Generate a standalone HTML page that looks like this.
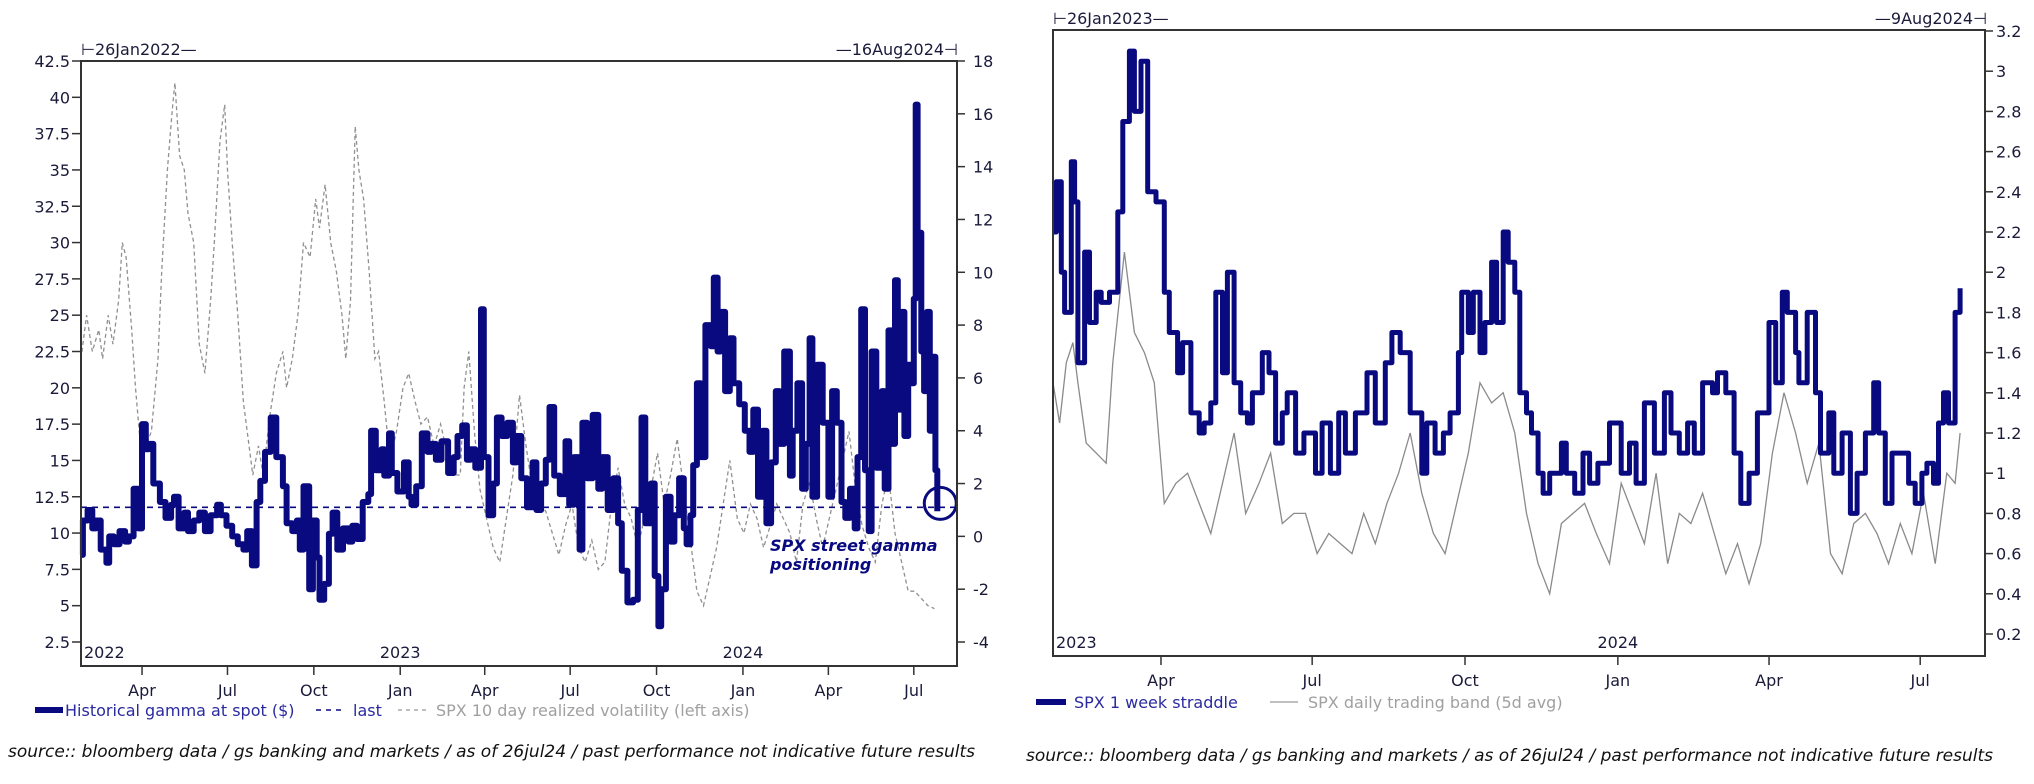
<!DOCTYPE html>
<html><head><meta charset="utf-8">
<style>
html,body{margin:0;padding:0;background:#fff;}
svg{display:block;}
text{font-family:"DejaVu Sans","Liberation Sans",sans-serif;}
</style></head>
<body>
<svg id="chart" width="2034" height="784" viewBox="0 0 2034 784" xmlns="http://www.w3.org/2000/svg"></svg>
<script>
// ---------- Left chart data ----------
const gammaDates = ["2022-01-26","2022-01-28","2022-02-02","2022-02-07","2022-02-11","2022-02-16","2022-02-22","2022-02-25","2022-03-02","2022-03-08","2022-03-14","2022-03-18","2022-03-23","2022-03-28","2022-04-01","2022-04-05","2022-04-08","2022-04-13","2022-04-20","2022-04-26","2022-05-02","2022-05-05","2022-05-10","2022-05-16","2022-05-20","2022-05-26","2022-06-01","2022-06-07","2022-06-13","2022-06-20","2022-06-24","2022-06-30","2022-07-06","2022-07-12","2022-07-18","2022-07-22","2022-07-27","2022-08-01","2022-08-05","2022-08-10","2022-08-16","2022-08-22","2022-08-29","2022-09-02","2022-09-08","2022-09-13","2022-09-16","2022-09-20","2022-09-26","2022-09-30","2022-10-04","2022-10-07","2022-10-12","2022-10-17","2022-10-21","2022-10-26","2022-11-01","2022-11-07","2022-11-11","2022-11-16","2022-11-22","2022-11-28","2022-12-01","2022-12-06","2022-12-12","2022-12-15","2022-12-20","2022-12-23","2022-12-29","2023-01-05","2023-01-10","2023-01-13","2023-01-18","2023-01-24","2023-01-30","2023-02-03","2023-02-08","2023-02-14","2023-02-21","2023-02-27","2023-03-03","2023-03-08","2023-03-13","2023-03-17","2023-03-22","2023-03-28","2023-03-31","2023-04-05","2023-04-10","2023-04-14","2023-04-19","2023-04-25","2023-05-01","2023-05-05","2023-05-10","2023-05-16","2023-05-22","2023-05-26","2023-05-31","2023-06-05","2023-06-09","2023-06-14","2023-06-20","2023-06-26","2023-06-30","2023-07-05","2023-07-11","2023-07-14","2023-07-19","2023-07-25","2023-07-31","2023-08-04","2023-08-10","2023-08-16","2023-08-21","2023-08-25","2023-08-31","2023-09-06","2023-09-11","2023-09-15","2023-09-19","2023-09-25","2023-09-29","2023-10-03","2023-10-06","2023-10-11","2023-10-16","2023-10-20","2023-10-25","2023-10-30","2023-11-02","2023-11-06","2023-11-09","2023-11-13","2023-11-17","2023-11-22","2023-11-28","2023-12-01","2023-12-05","2023-12-08","2023-12-13","2023-12-18","2023-12-22","2023-12-28","2024-01-03","2024-01-08","2024-01-12","2024-01-17","2024-01-22","2024-01-26","2024-01-31","2024-02-05","2024-02-09","2024-02-14","2024-02-20","2024-02-23","2024-02-28","2024-03-04","2024-03-08","2024-03-12","2024-03-15","2024-03-20","2024-03-26","2024-04-01","2024-04-05","2024-04-10","2024-04-15","2024-04-19","2024-04-24","2024-04-29","2024-05-02","2024-05-06","2024-05-10","2024-05-14","2024-05-17","2024-05-22","2024-05-28","2024-05-31","2024-06-04","2024-06-07","2024-06-11","2024-06-14","2024-06-18","2024-06-21","2024-06-25","2024-06-28","2024-07-01","2024-07-03","2024-07-05","2024-07-09","2024-07-12","2024-07-15","2024-07-18","2024-07-22","2024-07-24","2024-07-26"];
const gammaValues = [-0.7,0.6,1.0,0.3,0.6,-0.5,-1.0,0.0,-0.3,0.2,-0.2,0.0,1.8,0.3,4.25,3.3,3.5,2.0,1.3,0.7,1.2,1.5,0.3,0.9,0.2,0.6,0.9,0.2,0.8,1.2,0.8,0.4,0.0,-0.3,-0.5,0.2,-1.1,1.3,2.1,3.2,4.5,3.0,1.9,0.5,0.2,0.6,-0.5,1.9,-2.0,0.6,-0.8,-2.4,-1.8,0.1,0.9,-0.5,0.3,-0.2,0.4,-0.1,1.3,1.6,4.0,2.5,3.3,2.3,3.9,2.4,1.7,2.8,1.5,1.2,1.9,3.9,3.2,3.5,2.9,3.6,2.4,3.0,3.8,4.2,2.9,3.3,2.6,8.6,3.0,0.8,2.0,4.5,3.8,4.3,2.8,3.8,2.2,1.1,2.8,1.0,2.0,2.9,4.9,2.3,1.6,3.6,1.2,3.0,-0.5,4.3,2.2,4.6,1.8,3.0,1.0,2.2,0.5,-1.3,-2.5,-2.4,1.0,4.5,0.5,2.0,-1.5,-3.4,-2.0,1.5,-0.2,0.8,2.2,0.3,-0.3,0.8,2.7,5.8,3.0,8.0,7.2,9.8,7.0,8.5,5.5,7.5,5.8,5.0,4.0,3.2,4.8,1.5,4.0,0.5,2.8,5.5,3.5,7.0,2.3,4.0,5.8,1.8,3.5,7.5,1.5,6.5,4.3,1.5,5.5,4.3,1.3,0.7,1.8,0.3,3.0,8.6,2.5,0.2,7.0,2.6,5.5,1.8,7.8,3.5,9.7,4.8,8.5,3.8,6.5,5.8,9.0,16.35,11.5,7.0,5.5,8.5,4.0,6.8,2.5,0.95];
const gammaLast = 1.1;
const volDates = ["2022-01-26","2022-02-01","2022-02-07","2022-02-14","2022-02-18","2022-02-24","2022-03-01","2022-03-07","2022-03-11","2022-03-15","2022-03-21","2022-03-25","2022-03-31","2022-04-05","2022-04-11","2022-04-18","2022-04-22","2022-04-28","2022-05-03","2022-05-06","2022-05-11","2022-05-16","2022-05-20","2022-05-26","2022-06-01","2022-06-07","2022-06-13","2022-06-17","2022-06-23","2022-06-28","2022-07-01","2022-07-06","2022-07-12","2022-07-18","2022-07-22","2022-07-28","2022-08-03","2022-08-08","2022-08-15","2022-08-22","2022-08-29","2022-09-02","2022-09-08","2022-09-14","2022-09-20","2022-09-27","2022-10-03","2022-10-07","2022-10-13","2022-10-19","2022-10-25","2022-10-31","2022-11-04","2022-11-09","2022-11-14","2022-11-18","2022-11-23","2022-11-29","2022-12-05","2022-12-09","2022-12-15","2022-12-21","2022-12-28","2023-01-04","2023-01-10","2023-01-17","2023-01-23","2023-01-30","2023-02-06","2023-02-13","2023-02-20","2023-02-27","2023-03-06","2023-03-10","2023-03-15","2023-03-21","2023-03-27","2023-04-03","2023-04-10","2023-04-17","2023-04-24","2023-05-01","2023-05-08","2023-05-15","2023-05-22","2023-05-29","2023-06-05","2023-06-12","2023-06-19","2023-06-26","2023-07-03","2023-07-10","2023-07-17","2023-07-24","2023-07-31","2023-08-07","2023-08-14","2023-08-21","2023-08-28","2023-09-04","2023-09-11","2023-09-18","2023-09-25","2023-10-02","2023-10-09","2023-10-16","2023-10-23","2023-10-30","2023-11-06","2023-11-13","2023-11-20","2023-11-27","2023-12-04","2023-12-11","2023-12-18","2023-12-26","2024-01-02","2024-01-09","2024-01-16","2024-01-23","2024-01-30","2024-02-06","2024-02-13","2024-02-20","2024-02-27","2024-03-05","2024-03-12","2024-03-19","2024-03-26","2024-04-02","2024-04-09","2024-04-16","2024-04-23","2024-04-30","2024-05-07","2024-05-14","2024-05-21","2024-05-28","2024-06-04","2024-06-11","2024-06-18","2024-06-25","2024-07-02","2024-07-09","2024-07-16","2024-07-23"];
const volValues = [22,25,22.5,24,22,25,23,26,30,29,24,20,15.5,16,17,22,28,35,39,41,36,35,32,30,23,21,26,30,37,39.5,35,30,25,19,17,14,16,14,18,21,22.5,20,22,25,30,29,33,31,34,30,28,25,22,26,38,35,33,28,22,22.5,19,15,17,20,21,19,17.5,18,16,17.5,15.5,14,14,20,22.5,17,13,11,9,8,11,14,19.5,16,13,12,11.5,10,8.5,10.5,12,9,8,9.5,7.5,8,12,14.5,12,11,9,11,13,15.5,12,14,16.5,13,9.5,6,5,7,9,12,15,11,10,12,11,9,10.5,12,11,10,8,12,13.5,11,9,11,13,15,17,13,10.5,9,8,12,14,10,8,6,6,5.5,5,4.8];
const leftTicksL = [2.5,5,7.5,10,12.5,15,17.5,20,22.5,25,27.5,30,32.5,35,37.5,40,42.5];
const leftTicksR = [-4,-2,0,2,4,6,8,10,12,14,16,18];
const leftMonths = ["2022-04-01","2022-07-01","2022-10-01","2023-01-01","2023-04-01","2023-07-01","2023-10-01","2024-01-01","2024-04-01","2024-07-01"];
const leftMonthLabels = ["Apr","Jul","Oct","Jan","Apr","Jul","Oct","Jan","Apr","Jul"];

// ---------- Right chart data ----------
const stradDates = ["2023-01-26","2023-01-28","2023-01-31","2023-02-02","2023-02-06","2023-02-08","2023-02-10","2023-02-14","2023-02-17","2023-02-21","2023-02-24","2023-03-01","2023-03-06","2023-03-09","2023-03-13","2023-03-16","2023-03-20","2023-03-24","2023-03-29","2023-04-03","2023-04-06","2023-04-11","2023-04-14","2023-04-19","2023-04-24","2023-04-27","2023-05-01","2023-05-04","2023-05-08","2023-05-11","2023-05-15","2023-05-19","2023-05-23","2023-05-26","2023-06-01","2023-06-05","2023-06-09","2023-06-13","2023-06-16","2023-06-21","2023-06-26","2023-07-03","2023-07-07","2023-07-12","2023-07-17","2023-07-21","2023-07-27","2023-08-03","2023-08-08","2023-08-14","2023-08-18","2023-08-23","2023-08-29","2023-09-05","2023-09-08","2023-09-13","2023-09-18","2023-09-22","2023-09-27","2023-09-29","2023-10-03","2023-10-06","2023-10-10","2023-10-13","2023-10-17","2023-10-20","2023-10-24","2023-10-27","2023-10-31","2023-11-03","2023-11-07","2023-11-10","2023-11-14","2023-11-17","2023-11-21","2023-11-28","2023-12-01","2023-12-06","2023-12-11","2023-12-15","2023-12-20","2023-12-27","2024-01-03","2024-01-08","2024-01-12","2024-01-17","2024-01-23","2024-01-29","2024-02-02","2024-02-07","2024-02-12","2024-02-16","2024-02-21","2024-02-27","2024-03-01","2024-03-06","2024-03-11","2024-03-15","2024-03-20","2024-03-25","2024-04-01","2024-04-05","2024-04-09","2024-04-12","2024-04-17","2024-04-19","2024-04-24","2024-04-29","2024-05-02","2024-05-07","2024-05-10","2024-05-15","2024-05-20","2024-05-24","2024-05-29","2024-06-03","2024-06-06","2024-06-10","2024-06-14","2024-06-19","2024-06-24","2024-06-28","2024-07-02","2024-07-05","2024-07-09","2024-07-12","2024-07-15","2024-07-18","2024-07-22","2024-07-25"];
const stradValues = [2.2,2.45,2.0,1.8,2.55,2.35,1.55,2.1,1.75,1.9,1.85,1.9,2.3,2.75,3.1,2.8,3.05,2.4,2.35,1.9,1.7,1.5,1.65,1.3,1.2,1.25,1.35,1.9,1.5,2.0,1.45,1.3,1.25,1.4,1.6,1.5,1.15,1.3,1.4,1.1,1.2,1.0,1.25,1.0,1.3,1.1,1.3,1.5,1.25,1.55,1.7,1.6,1.3,1.0,1.25,1.1,1.2,1.3,1.6,1.9,1.7,1.9,1.6,1.75,2.05,1.75,2.2,2.05,1.9,1.4,1.3,1.2,1.0,0.9,1.0,1.15,1.0,0.9,1.1,0.95,1.05,1.25,1.0,1.15,0.95,1.35,1.1,1.4,1.2,1.1,1.25,1.1,1.45,1.4,1.5,1.4,1.1,0.85,1.0,1.3,1.75,1.45,1.9,1.8,1.6,1.45,1.8,1.4,1.1,1.3,1.0,1.2,0.8,1.0,1.2,1.45,1.2,0.85,1.1,1.1,0.95,0.85,1.0,1.05,0.95,1.25,1.4,1.25,1.8,1.92];
const bandDates = ["2023-01-26","2023-01-30","2023-02-03","2023-02-07","2023-02-10","2023-02-15","2023-02-21","2023-02-27","2023-03-03","2023-03-10","2023-03-16","2023-03-22","2023-03-28","2023-04-03","2023-04-10","2023-04-17","2023-04-24","2023-05-01","2023-05-08","2023-05-15","2023-05-22","2023-05-30","2023-06-06","2023-06-13","2023-06-20","2023-06-27","2023-07-04","2023-07-11","2023-07-18","2023-07-25","2023-08-01","2023-08-08","2023-08-15","2023-08-22","2023-08-29","2023-09-05","2023-09-12","2023-09-19","2023-09-26","2023-10-03","2023-10-10","2023-10-17","2023-10-24","2023-10-31","2023-11-07","2023-11-14","2023-11-21","2023-11-28","2023-12-05","2023-12-12","2023-12-19","2023-12-27","2024-01-03","2024-01-10","2024-01-17","2024-01-24","2024-01-31","2024-02-07","2024-02-14","2024-02-21","2024-02-28","2024-03-06","2024-03-13","2024-03-20","2024-03-27","2024-04-03","2024-04-10","2024-04-17","2024-04-24","2024-05-01","2024-05-08","2024-05-15","2024-05-22","2024-05-29","2024-06-05","2024-06-12","2024-06-19","2024-06-26","2024-07-03","2024-07-10","2024-07-17","2024-07-22","2024-07-25"];
const bandValues = [1.45,1.25,1.55,1.65,1.45,1.15,1.1,1.05,1.55,2.1,1.7,1.6,1.45,0.85,0.95,1.0,0.85,0.7,0.95,1.2,0.8,0.95,1.1,0.75,0.8,0.8,0.6,0.7,0.65,0.6,0.8,0.65,0.85,1.0,1.2,0.9,0.7,0.6,0.85,1.1,1.45,1.35,1.4,1.2,0.8,0.55,0.4,0.75,0.8,0.85,0.7,0.55,0.95,0.8,0.65,1.0,0.55,0.8,0.75,0.9,0.7,0.5,0.65,0.45,0.65,1.1,1.4,1.2,0.95,1.15,0.6,0.5,0.75,0.8,0.7,0.55,0.75,0.6,0.9,0.55,1.0,0.95,1.2];
const rightTicks = [0.2,0.4,0.6,0.8,1,1.2,1.4,1.6,1.8,2,2.2,2.4,2.6,2.8,3,3.2];
const rightMonths = ["2023-04-01","2023-07-01","2023-10-01","2024-01-01","2024-04-01","2024-07-01"];
const rightMonthLabels = ["Apr","Jul","Oct","Jan","Apr","Jul"];

// ---------- helpers ----------
const NS = "http://www.w3.org/2000/svg";
const svg = document.getElementById("chart");
function mk(tag, attrs, parent, txt){
  const e = document.createElementNS(NS, tag);
  for (const k in attrs) e.setAttribute(k, attrs[k]);
  if (txt !== undefined) e.textContent = txt;
  (parent || svg).appendChild(e);
  return e;
}
const day = s => Date.UTC(+s.slice(0,4), +s.slice(5,7)-1, +s.slice(8,10)) / 86400000;
const fmt = v => String(v);
function stepPts(dates, vals, fx, fy){
  const p = [];
  dates.forEach((d,i)=>{
    const x = fx(d), y = fy(vals[i]);
    if (i>0) p.push(x.toFixed(1)+","+fy(vals[i-1]).toFixed(1));
    p.push(x.toFixed(1)+","+y.toFixed(1));
  });
  return p.join(" ");
}

// ---------- LEFT CHART ----------
const L = {x0:81, x1:957, y0:61, y1:666, d0:day("2022-01-26"), d1:day("2024-08-16")};
const lx = d => L.x0 + (day(d) - L.d0) / (L.d1 - L.d0) * (L.x1 - L.x0);
const lyL = v => 61 + (42.5 - v) * (581 / 16 / 2.5);
const lyR = v => 61 + (18 - v) * (581 / 22);

const gL = mk("g", {});



const volPath = mk("polyline", {points: volDates.map((d,i)=>lx(d).toFixed(1)+","+lyL(volValues[i]).toFixed(1)).join(" "), fill:"none", stroke:"#909090", "stroke-width":"1.3", "stroke-dasharray":"4,3"}, gL);



const lastLine = mk("line", {x1:L.x0, x2:L.x1, y1:lyR(gammaLast), y2:lyR(gammaLast), stroke:"#0a0a80", "stroke-width":"1.6", "stroke-dasharray":"6,5"}, gL);



const gammaPath = mk("polyline", {points: stepPts(gammaDates, gammaValues, lx, lyR), fill:"none", stroke:"#0a0a80", "stroke-width":"6", "stroke-linejoin":"round"}, gL);



const circ = mk("circle", {cx: lx(gammaDates[gammaDates.length-1])+3, cy: lyR(gammaLast)-4, r:16, fill:"none", stroke:"#0a0a80", "stroke-width":"3"}, gL);


const ann = mk("text", {x:770, y:551, "font-size":"16", "font-style":"italic", "font-weight":"bold", fill:"#0a0a80"}, gL);


mk("tspan", {x:770, y:551}, ann, "SPX street gamma");
mk("tspan", {x:770, y:570}, ann, "positioning");

const frameL = mk("rect", {x:L.x0, y:L.y0, width:L.x1-L.x0, height:L.y1-L.y0, fill:"none", stroke:"#333", "stroke-width":"2"}, gL);



leftTicksL.forEach(v=>{
  const y = lyL(v);
  mk("line",{x1:L.x0-9,x2:L.x0,y1:y,y2:y,stroke:"#333","stroke-width":"1.5"},gL);
  const t = mk("text",{x:L.x0-11,y:y+6,"text-anchor":"end","font-size":"16",fill:"#1a1a3a"},gL,fmt(v));
  
  
});
leftTicksR.forEach(v=>{
  const y = lyR(v);
  mk("line",{x1:L.x1,x2:L.x1+8,y1:y,y2:y,stroke:"#333","stroke-width":"1.5"},gL);
  const t = mk("text",{x:L.x1+16,y:y+6,"font-size":"16",fill:"#1a1a3a"},gL,fmt(v));
  
  
});
leftMonths.forEach((m,i)=>{
  const x = lx(m);
  mk("line",{x1:x,x2:x,y1:L.y1,y2:L.y1+9,stroke:"#333","stroke-width":"1.5"},gL);
  const t = mk("text",{x:x,y:L.y1+30,"text-anchor":"middle","font-size":"16",fill:"#1a1a3a"},gL,leftMonthLabels[i]);
  
  
});
[[84,"2022","start"],[lx("2023-01-01"),"2023","middle"],[lx("2024-01-01"),"2024","middle"]].forEach(a=>{
  const t = mk("text",{x:a[0],y:L.y1-8,"text-anchor":a[2],"font-size":"16",fill:"#1a1a3a"},gL,a[1]);
  
  
});
const sdL = mk("text",{x:81,y:55,"font-size":"16",fill:"#1a1a3a"},gL,"⊢26Jan2022—");


const edL = mk("text",{x:958,y:55,"text-anchor":"end","font-size":"16",fill:"#1a1a3a"},gL,"—16Aug2024⊣");



const lg1 = mk("g",{},gL);


mk("line",{x1:35,x2:63,y1:710,y2:710,stroke:"#0a0a80","stroke-width":"6"},lg1);
mk("text",{x:65,y:716,"font-size":"16",fill:"#2a2aa0"},lg1,"Historical gamma at spot ($)");
const lg2 = mk("g",{},gL);


mk("line",{x1:316,x2:346,y1:710,y2:710,stroke:"#0a0a80","stroke-width":"1.6","stroke-dasharray":"5,5"},lg2);
mk("text",{x:353,y:716,"font-size":"16",fill:"#2a2aa0"},lg2,"last");
const lg3 = mk("g",{},gL);


mk("line",{x1:398,x2:428,y1:710,y2:710,stroke:"#999","stroke-width":"1.3","stroke-dasharray":"4,4"},lg3);
mk("text",{x:436,y:716,"font-size":"16",fill:"#a0a0a0"},lg3,"SPX 10 day realized volatility (left axis)");
const srcL = mk("text",{x:8,y:757,"font-size":"17","font-style":"italic",fill:"#111","font-family":"Liberation Sans, sans-serif"},gL,"source:: bloomberg data / gs banking and markets / as of 26jul24 / past performance not indicative future results");



// ---------- RIGHT CHART ----------
const R = {x0:1053, x1:1985, y0:30, y1:656, d0:day("2023-01-26"), d1:day("2024-08-09")};
const rx = d => R.x0 + (day(d) - R.d0) / (R.d1 - R.d0) * (R.x1 - R.x0);
const ry = v => 31 + (3.2 - v) * 201;
const gR = mk("g", {});



const bandPath = mk("polyline", {points: bandDates.map((d,i)=>rx(d).toFixed(1)+","+ry(bandValues[i]).toFixed(1)).join(" "), fill:"none", stroke:"#8a8a8a", "stroke-width":"1.3"}, gR);


const stradPath = mk("polyline", {points: stepPts(stradDates, stradValues, rx, ry), fill:"none", stroke:"#0a0a80", "stroke-width":"5", "stroke-linejoin":"round"}, gR);



const frameR = mk("rect", {x:R.x0, y:R.y0, width:R.x1-R.x0, height:R.y1-R.y0, fill:"none", stroke:"#333", "stroke-width":"2"}, gR);


rightTicks.forEach(v=>{
  const y = ry(v);
  mk("line",{x1:R.x1,x2:R.x1+8,y1:y,y2:y,stroke:"#333","stroke-width":"1.5"},gR);
  const t = mk("text",{x:R.x1+11,y:y+6,"font-size":"16",fill:"#1a1a3a"},gR,fmt(v));
  
  
});
rightMonths.forEach((m,i)=>{
  const x = rx(m);
  mk("line",{x1:x,x2:x,y1:R.y1,y2:R.y1+9,stroke:"#333","stroke-width":"1.5"},gR);
  const t = mk("text",{x:x,y:R.y1+30,"text-anchor":"middle","font-size":"16",fill:"#1a1a3a"},gR,rightMonthLabels[i]);
  
  
});
[[1056,"2023","start"],[rx("2024-01-01"),"2024","middle"]].forEach(a=>{
  const t = mk("text",{x:a[0],y:R.y1-8,"text-anchor":a[2],"font-size":"16",fill:"#1a1a3a"},gR,a[1]);
  
  
});
const sdR = mk("text",{x:1053,y:24,"font-size":"16",fill:"#1a1a3a"},gR,"⊢26Jan2023—");


const edR = mk("text",{x:1987,y:24,"text-anchor":"end","font-size":"16",fill:"#1a1a3a"},gR,"—9Aug2024⊣");



const lg4 = mk("g",{},gR);


mk("line",{x1:1036,x2:1066,y1:702,y2:702,stroke:"#0a0a80","stroke-width":"6"},lg4);
mk("text",{x:1074,y:708,"font-size":"16",fill:"#2a2aa0"},lg4,"SPX 1 week straddle");
const lg5 = mk("g",{},gR);


mk("line",{x1:1270,x2:1298,y1:702,y2:702,stroke:"#999","stroke-width":"1.3"},lg5);
mk("text",{x:1308,y:708,"font-size":"16",fill:"#a0a0a0"},lg5,"SPX daily trading band (5d avg)");
const srcR = mk("text",{x:1026,y:761,"font-size":"17","font-style":"italic",fill:"#111","font-family":"Liberation Sans, sans-serif"},gR,"source:: bloomberg data / gs banking and markets / as of 26jul24 / past performance not indicative future results");


</script>
</body></html>
